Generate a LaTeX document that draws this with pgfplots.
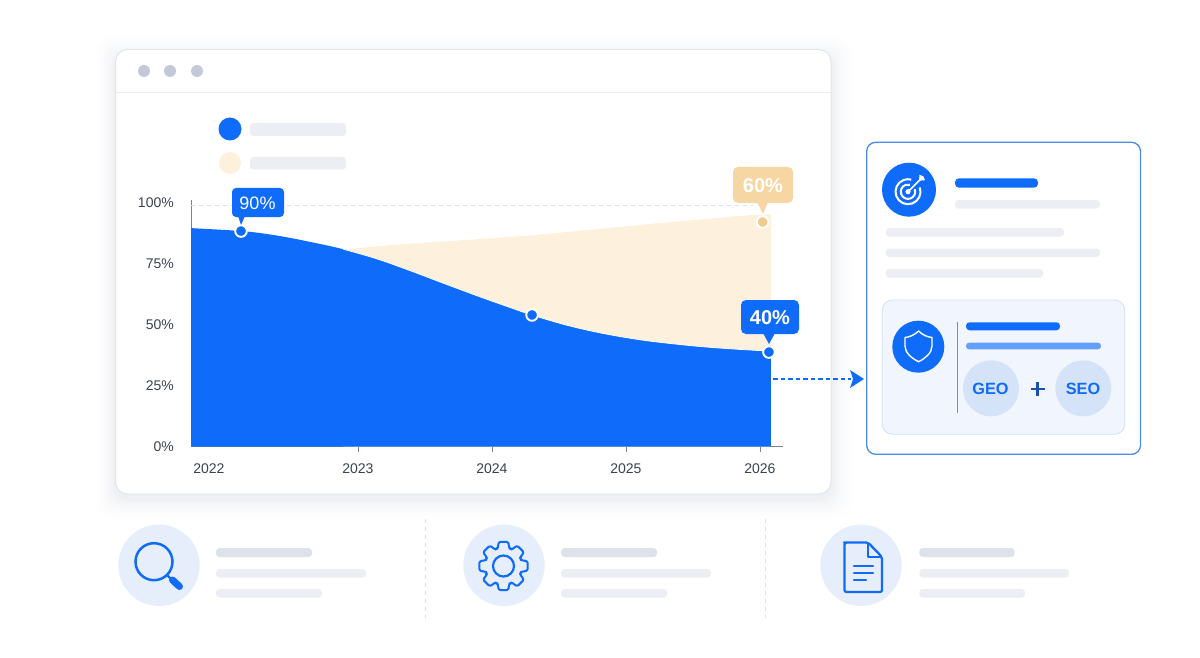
\documentclass[border=0pt]{standalone}
\usepackage{fontspec}
\setmainfont{Liberation Sans}
\usepackage{pgfplots}
\usepackage{pgfplotstable}
\pgfplotsset{compat=1.18}
\definecolor{mblue}{HTML}{0F6CFA}
\definecolor{mbeige}{HTML}{FDF0DC}
\definecolor{mtan}{HTML}{F6D6A2}
\definecolor{mdot}{HTML}{F2C98E}
\definecolor{gbar}{HTML}{ECEEF3}
\definecolor{gbarb}{HTML}{DDE1EA}
\definecolor{txt}{HTML}{3B4150}
\definecolor{cblue}{HTML}{E6EEFB}
\definecolor{cardb}{HTML}{4A8CEB}
\definecolor{vline}{HTML}{6A90CC}
\definecolor{innerb}{HTML}{CFE0F8}
\definecolor{innerf}{HTML}{F1F6FE}
\definecolor{geoc}{HTML}{D5E3F8}
\definecolor{plusc}{HTML}{1A4FB0}
\definecolor{dotc}{HTML}{C3C9D8}
\definecolor{mainb}{HTML}{E2E5EE}
\definecolor{axc}{HTML}{7B8294}
\definecolor{shad}{HTML}{46597F}
% x = years since 2022
\pgfplotstableread{
x y
-0.246 89.5
0.127 88.3
0.343 86.9
0.567 84.7
0.888 80.9
1.142 76.9
1.388 72.1
1.634 67.0
1.888 61.8
2.134 57.0
2.299 53.9
2.560 49.7
2.806 46.6
3.052 44.2
3.254 42.7
3.552 41.0
3.851 39.8
4.082 39.1
}\bluetable
\pgfplotstableread{
x y
0.888 80.7
1.313 82.8
2.060 85.6
2.560 87.9
3.104 90.8
3.552 93.0
3.851 94.5
4.082 95.2
}\beigetable
\newcommand{\pill}[5]{\fill[#5,rounded corners=3.5pt] (#1,#3) rectangle (#2,#4);}
\begin{document}
\begin{tikzpicture}[x=1pt,y=-1pt]
\fill[color=white] (0,0) rectangle (1200,658);
% main card shadow: solid layers, outermost first
\foreach \i in {24,23,...,1}{
  \pgfmathsetmacro\p{9*((25-\i)/24)^2}
  \fill[color=shad!\p!white,rounded corners=14pt] (115.5-\i,49.5-\i+7) rectangle (831+\i,494+\i+4);
}
\draw[color=mainb,fill=white,line width=1pt,rounded corners=12pt] (115.5,49.5) rectangle (831,494);
\draw[color=gbar,line width=1pt] (116,93) -- (830.5,93);
\foreach \x in {144,170,197}{\fill[color=dotc] (\x,71) circle (6);}
% legend
\fill[mblue] (230,129) circle (11.5);
\fill[mbeige] (230,163) circle (11);
\pill{250}{346}{123}{136}{gbar}
\pill{250}{346}{157}{169.5}{gbar}
% chart
\begin{axis}[
  at={(191pt,-446.5pt)},anchor=south west,scale only axis,
  width=592pt,height=246.44pt,
  xmin=-0.246,xmax=4.172,ymin=0,ymax=101,
  axis x line=bottom,axis y line=left,
  axis line style={-,color=axc,line width=0.8pt},
  clip=false,
  /pgf/number format/assume math mode=true,
  ytick={0,25,50,75,100},
  yticklabels={0\%,25\%,50\%,75\%,100\%},
  xtick={1,2,3,4},
  xticklabels={2023,2024,2025,2026},
  extra x ticks={-0.112},
  extra x tick labels={2022},
  extra x tick style={major tick style={draw=none}},
  tick align=outside,
  x tick style={color=axc,line width=0.7pt},
  y tick style={draw=none},
  major tick length=5pt,
  tick label style={font=\fontsize{14}{14}\selectfont,color=txt,inner sep=0pt},
  yticklabel style={xshift=-12pt},
  xticklabel style={yshift=-12pt},
]
\addplot[draw=none,fill=mbeige,smooth,tension=0.6] table[x=x,y=y]{\beigetable} \closedcycle;
\addplot[draw=none,fill=mblue,smooth,tension=0.6] table[x=x,y=y]{\bluetable} \closedcycle;
\addplot[color=white,line width=0.8pt,smooth,tension=0.6,restrict x to domain=0.85:4.09] table[x=x,y=y]{\bluetable};
\addplot[color=gbarb,dash pattern=on 4pt off 4pt,line width=0.7pt] coordinates {(-0.246,99) (3.95,99)};
\addplot[only marks,mark=*,mark size=5.8pt,mark options={fill=mblue,draw=white,line width=1.9pt}] coordinates {(0.127,88.3) (2.299,53.9) (4.067,38.7)};
\addplot[only marks,mark=*,mark size=5.8pt,mark options={fill=mdot,draw=white,line width=1.9pt}] coordinates {(4.020,92.0)};
\end{axis}
% callouts
\fill[mblue,rounded corners=4pt] (232,188) rectangle (284,217);
\fill[mblue] (238,216) -- (245,216) -- (241,225) -- cycle;
\node[text=white,font=\fontsize{18}{18}\selectfont] at (257.5,203) {90\%};
\fill[mtan,rounded corners=5pt] (733,167) rectangle (793,203);
\fill[mtan] (757,202) -- (768,202) -- (763,214) -- cycle;
\node[text=white,font=\bfseries\fontsize{20}{20}\selectfont] at (763,186) {60\%};
\fill[mblue,rounded corners=5pt] (741,300) rectangle (799,334);
\fill[mblue] (763,333) -- (775,333) -- (769,344) -- cycle;
\node[text=white,font=\bfseries\fontsize{20}{20}\selectfont] at (770,318) {40\%};
% arrow
\draw[mblue,line width=1.7pt,dash pattern=on 4.5pt off 3pt] (773,379) -- (851,379);
\fill[mblue] (850,370) -- (864,379) -- (850,388) -- (853,379) -- cycle;
% right card
\draw[color=cardb,fill=white,line width=1.3pt,rounded corners=9pt] (866.7,142.3) rectangle (1140.5,454.3);
\fill[mblue] (909,189.7) circle (27);
\begin{scope}[white,shift={(908,191.7)}]
  \draw[line width=2pt] (-20:12.5) arc (-20:285:12.5);
  \draw[line width=2pt] (-20:7.2) arc (-20:285:7.2);
  \fill (0,0) circle (2.6);
  \draw[line width=1.7pt] (0,0) -- (14,-14);
  \fill (11,-11) -- (11.5,-17) -- (15,-15.5) -- (15.5,-15) -- (17,-11.5) -- cycle;
\end{scope}
\fill[mblue,rounded corners=4pt] (955,178.3) rectangle (1038,187.7);
\pill{955}{1100}{200}{208.5}{gbar}
\pill{885.7}{1064}{228}{236.5}{gbar}
\pill{885.7}{1100}{248.5}{257}{gbar}
\pill{885.7}{1043}{269}{277.5}{gbar}
\draw[color=innerb,fill=innerf,line width=0.8pt,rounded corners=10pt] (882.3,300) rectangle (1124.7,434.3);
\fill[mblue] (918.3,346.7) circle (26);
\draw[white,line width=1.4pt,line join=round] (918.6,331) .. controls (914,335.5) and (909,337) .. (905,337.5) -- (905,346) .. controls (905,353) and (912,358.5) .. (918.6,361.7) .. controls (925,358.5) and (932,353) .. (932,346) -- (932,337.5) .. controls (928,337) and (923,335.5) .. (918.6,331) -- cycle;
\draw[color=vline,line width=0.9pt] (957.3,322) -- (957.3,413);
\fill[mblue,rounded corners=3.5pt] (966,322.3) rectangle (1060,330.3);
\fill[color=mblue!65!white,rounded corners=3pt] (966,342.7) rectangle (1101,349.3);
\fill[color=geoc] (991,388.3) circle (28);
\fill[color=geoc] (1083.3,388.3) circle (28);
\node[text=mblue,font=\bfseries\fontsize{16.3}{16.3}\selectfont] at (990.5,389) {GEO};
\node[text=mblue,font=\bfseries\fontsize{16.3}{16.3}\selectfont] at (1083,389) {SEO};
\draw[color=plusc,line width=2.2pt] (1030.5,389) -- (1044.5,389) (1037.5,382) -- (1037.5,396);
% bottom row
\foreach \x in {159,504,861}{\fill[cblue] (\x,565.3) circle (40.7);}
% magnifier
\draw[mblue,line width=2.5pt] (154,561.7) circle (18.5);
\draw[mblue,line width=2.2pt] (167,575) -- (172,580);
\draw[mblue,line width=7pt,line cap=round] (172.5,580) -- (179.5,586.5);
% gear
\begin{scope}[shift={(503.5,566)}]
\draw[mblue,line width=2pt,line join=round,rounded corners=1.4pt] (-22.5:18.5)
 foreach \a in {0,45,...,315}{ -- (\a-22.5+4:18.5) -- (\a-11:24.6) -- (\a+11:24.6) -- (\a+22.5-4:18.5) -- (\a+22.5:18.5)} -- cycle;
\draw[mblue,line width=2.2pt] (0,0) circle (10.5);
\end{scope}
% document
\draw[mblue,line width=2.3pt,line join=round,rounded corners=2pt] (846,542.5) -- (868,542.5) -- (882,557) -- (882,592) -- (844.5,592) -- (844.5,542.5) -- cycle;
\draw[mblue,line width=1.8pt,line join=round] (868,542.5) -- (868,557) -- (882,557);
\draw[mblue,line width=2.2pt,line cap=round] (854,566) -- (873,566) (854,573) -- (873,573) (854,580) -- (866,580);
% bottom bars
\pill{216}{312}{548}{557}{gbarb}
\pill{216}{366}{569}{577.5}{gbar}
\pill{216}{322}{589}{597.5}{gbar}
\pill{561}{657}{548}{557}{gbarb}
\pill{561}{711}{569}{577.5}{gbar}
\pill{561}{667}{589}{597.5}{gbar}
\pill{919.3}{1014.7}{548}{557}{gbarb}
\pill{919.3}{1069}{569}{577.5}{gbar}
\pill{919.3}{1025}{589}{597.5}{gbar}
\draw[color=gbarb,line width=1pt,dash pattern=on 4pt off 4pt] (425.5,519) -- (425.5,618) (765,519) -- (765,618);
\end{tikzpicture}
\end{document}
